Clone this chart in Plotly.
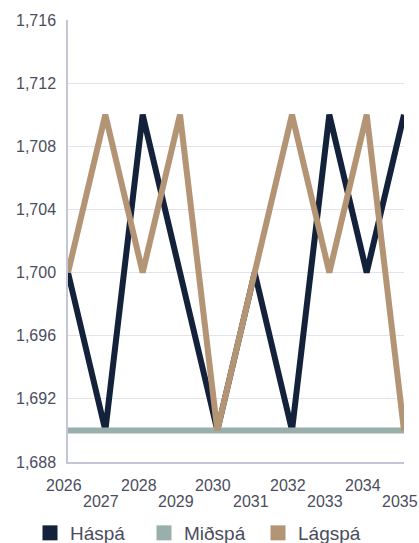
import plotly.graph_objects as go

# ── Data ─────────────────────────────────────────────────────────────────────
YEARS   = [2026, 2027, 2028, 2029, 2030, 2031, 2032, 2033, 2034, 2035]
HASPA   = [1700, 1690, 1710, 1700, 1690, 1700, 1690, 1710, 1700, 1710]
MIDSPA  = [1690, 1690, 1690, 1690, 1690, 1690, 1690, 1690, 1690, 1690]
LAGSPA  = [1700, 1710, 1700, 1710, 1690, 1700, 1710, 1700, 1710, 1690]
Y_TICKS = [1688, 1692, 1696, 1700, 1704, 1708, 1712, 1716]

# ── Palette ──────────────────────────────────────────────────────────────────
NAVY = "#13223a"
TEAL = "#98afab"
TAN  = "#b39474"
TEXT = "#4a4d5e"
GRID = "#e3e3ee"
AXIS = "#c3c6d8"

SERIES = [("Háspá", HASPA, NAVY), ("Miðspá", MIDSPA, TEAL), ("Lágspá", LAGSPA, TAN)]

W, H = 419, 543

fig = go.Figure()
for name, vals, col in SERIES:
    fig.add_trace(go.Scatter(
        x=YEARS, y=vals, mode="lines", name=name,
        line=dict(color=col, width=6), showlegend=False,
    ))

# square legend markers, one legend per entry so spacing can be set freely
LEGEND_X = [30, 144, 258]
legends = {}
for i, ((name, vals, col), lx) in enumerate(zip(SERIES, LEGEND_X)):
    key = "legend" if i == 0 else f"legend{i + 1}"
    fig.add_trace(go.Scatter(
        x=[None], y=[None], mode="markers", name=name, legend=key,
        marker=dict(symbol="square", size=15, color=col),
    ))
    legends[key] = dict(
        orientation="h", xref="container", yref="container",
        x=lx / W, xanchor="left", y=10 / H, yanchor="middle",
        font=dict(size=19, color=TEXT), itemwidth=30,
        bgcolor="rgba(0,0,0,0)",
    )

# staggered year labels: even years on the first row, odd years below
for i, yr in enumerate(YEARS):
    fig.add_annotation(
        x=yr, xref="x", y=0, yref="paper", yanchor="middle",
        yshift=-23 if i % 2 == 0 else -39.5, xshift=-4,
        text=str(yr), showarrow=False,
        font=dict(size=16, color=TEXT),
    )

fig.update_layout(
    width=W, height=H,
    paper_bgcolor="white", plot_bgcolor="white",
    margin=dict(l=68, r=15, t=20, b=81, autoexpand=False),
    font=dict(family="Liberation Sans, Arial, sans-serif", color=TEXT, size=16),
    xaxis=dict(
        range=[2026, 2035], tickvals=YEARS, showticklabels=False,
        showgrid=False, showline=True, linecolor=AXIS, linewidth=1.5,
        ticks="", zeroline=False, automargin=False,
    ),
    yaxis=dict(
        range=[1688, 1716], tickvals=Y_TICKS, tickformat=",d",
        showgrid=True, gridcolor=GRID, gridwidth=1,
        showline=True, linecolor=AXIS, linewidth=1.5,
        ticks="", ticklabelstandoff=7,
        tickfont=dict(size=16, color=TEXT), zeroline=False,
        automargin=False,
    ),
    **legends,
)

# drop the default body margin so the figure fills the window exactly
fig.write_html(
    "out.html",
    config={"displayModeBar": False},
    post_script="document.body.style.margin='0';document.body.style.overflow='hidden';",
)
